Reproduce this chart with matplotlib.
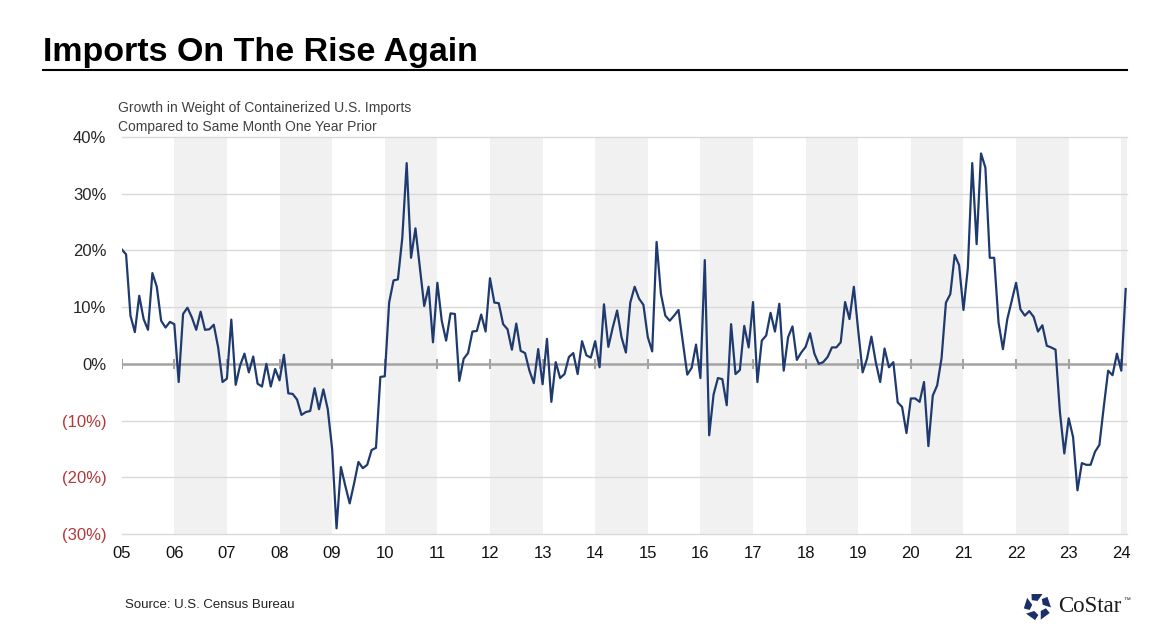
import numpy as np
import matplotlib.pyplot as plt
from matplotlib.lines import Line2D
from matplotlib.patches import Polygon

plt.rcParams['font.family'] = ['Liberation Sans', 'DejaVu Sans']

# monthly y/y growth (%), Jan 2005 - Feb 2024
growth = [
    20.2, 19.3, 8.5, 5.6, 12.0, 7.9, 6.0, 16.0, 13.6, 7.6, 6.4, 7.4,
    7.0, -3.2, 8.8, 9.9, 8.2, 6.0, 9.2, 6.0, 6.1, 6.9, 2.9, -3.2,
    -2.6, 7.8, -3.7, -0.3, 1.8, -1.5, 1.3, -3.5, -4.0, 0.0, -4.0, -0.9,
    -2.9, 1.6, -5.2, -5.3, -6.3, -9.0, -8.5, -8.3, -4.3, -8.0, -4.5, -8.0,
    -15.0, -29.0, -18.2, -21.5, -24.6, -21.1, -17.3, -18.4, -17.8, -15.2, -14.8, -2.3,
    -2.2, 10.8, 14.7, 14.9, 22.2, 35.4, 18.7, 23.9, 17.0, 10.2, 13.6, 3.8,
    14.3, 7.6, 4.1, 8.9, 8.8, -3.0, 0.9, 1.9, 5.7, 5.8, 8.7, 5.7,
    15.1, 10.8, 10.7, 7.0, 6.1, 2.5, 7.1, 2.3, 1.9, -1.2, -3.4, 2.6,
    -3.6, 4.4, -6.7, 0.3, -2.5, -1.8, 1.2, 1.9, -1.8, 4.0, 1.5, 1.1,
    4.0, -0.6, 10.5, 3.0, 6.4, 9.4, 4.7, 2.0, 10.8, 13.6, 11.5, 10.4,
    4.7, 2.2, 21.5, 12.3, 8.5, 7.6, 8.5, 9.5, 3.8, -1.9, -0.7, 3.4,
    -2.5, 18.3, -12.6, -5.4, -2.5, -2.7, -7.3, 7.0, -1.8, -1.1, 6.7, 2.9,
    10.9, -3.2, 4.1, 5.0, 9.0, 5.7, 10.6, -1.2, 4.7, 6.6, 0.7, 2.0,
    3.0, 5.4, 1.8, 0.0, 0.3, 1.2, 2.9, 2.9, 3.8, 10.9, 7.9, 13.6,
    5.8, -1.5, 0.9, 4.8, 0.3, -3.2, 2.7, -0.6, 0.3, -6.8, -7.6, -12.2,
    -6.1, -6.1, -6.7, -3.2, -14.5, -5.6, -3.8, 1.0, 10.8, 12.3, 19.2, 17.4,
    9.5, 16.9, 35.4, 21.1, 37.1, 34.6, 18.7, 18.7, 7.3, 2.6, 7.9, 11.1,
    14.3, 9.6, 8.5, 9.3, 8.3, 5.7, 6.8, 3.2, 2.9, 2.5, -8.5, -15.8,
    -9.6, -12.9, -22.3, -17.5, -17.8, -17.8, -15.5, -14.3, -7.6, -1.2, -2.0, 1.8,
    -1.2, 13.2,
]
year_labels = ['05', '06', '07', '08', '09', '10', '11', '12', '13', '14',
               '15', '16', '17', '18', '19', '20', '21', '22', '23', '24']
y_ticks = [-30, -20, -10, 0, 10, 20, 30, 40]
y_labels = ['(30%)', '(20%)', '(10%)', '0%', '10%', '20%', '30%', '40%']

W, H = 1170, 642
months = np.arange(len(growth))
year_pos = np.arange(len(year_labels)) * 12
x_max = 229.3

fig = plt.figure(figsize=(W / 100, H / 100), dpi=100)
ax = fig.add_axes([121.7 / W, 1 - 534 / H, (1127 - 121.7) / W, (534 - 137) / H])

# alternating year shading
for k, x0 in enumerate(year_pos):
    if k % 2 == 1:
        ax.axvspan(x0, min(x0 + 12, x_max), color='#f1f1f1', lw=0, zorder=0)

for v in y_ticks:
    if v != 0:
        ax.axhline(v, color='#d9d9d9', lw=1, zorder=1, clip_on=False)
ax.axhline(0, color='#a3a3a3', lw=1.8, zorder=2)
ax.vlines(year_pos, -0.9, 0.9, color='#a3a3a3', lw=1.5, zorder=2)

ax.plot(months, growth, color='#1f3a6e', lw=1.6, zorder=3)

ax.set_xlim(0, x_max)
ax.set_ylim(-30, 40)
ax.set_xticks(year_pos, year_labels)
ax.set_yticks(y_ticks, y_labels)
ax.tick_params(axis='both', length=0, labelsize=12)
ax.tick_params(axis='x', pad=9)
ax.tick_params(axis='y', pad=11)
for s in ax.spines.values():
    s.set_visible(False)
for lbl, v in zip(ax.get_yticklabels(), y_ticks):
    lbl.set_color('#b4373a' if v < 0 else '#262626')
for lbl in ax.get_xticklabels():
    lbl.set_color('#111111')

# header
fig.text(43 / W, 1 - 61 / H, 'Imports On The Rise Again', fontsize=24.5,
         fontweight='bold', va='baseline', color='#000000')
fig.add_artist(Line2D([43 / W, 1127 / W], [1 - 70 / H] * 2, color='black', lw=1.5))
fig.text(118 / W, 1 - 108 / H, 'Growth in Weight of Containerized U.S. Imports',
         fontsize=10, va='center', color='#404040')
fig.text(118 / W, 1 - 127 / H, 'Compared to Same Month One Year Prior',
         fontsize=10, va='center', color='#404040')

# footer
fig.text(125 / W, 1 - 605 / H, 'Source: U.S. Census Bureau', fontsize=9.5,
         va='center', color='#222222')

# CoStar logo
ax_logo = fig.add_axes([1023 / W, 1 - 621 / H, 29 / W, 29 / H])
ax_logo.set_xlim(-1.05, 1.05)
ax_logo.set_ylim(-1.05, 1.05)
ax_logo.set_aspect('equal')
ax_logo.axis('off')
base = [(0.40, 0), (0.98, -22), (1.0, 26), (0.62, 42)]
for k in range(5):
    rot = 90 + k * 72
    pts = [(r * np.cos(np.radians(a + rot)), r * np.sin(np.radians(a + rot))) for r, a in base]
    ax_logo.add_patch(Polygon(pts, closed=True, color='#1b2f6b', lw=0))
fig.text(1058 / W, 1 - 607 / H, 'CoStar', family='Liberation Serif', fontsize=16.5,
         va='center', color='#1a1a1a')
fig.text(1123 / W, 1 - 601 / H, '\u2122', fontsize=5, va='center', color='#1a1a1a')

fig.savefig('out.png', dpi=100)
